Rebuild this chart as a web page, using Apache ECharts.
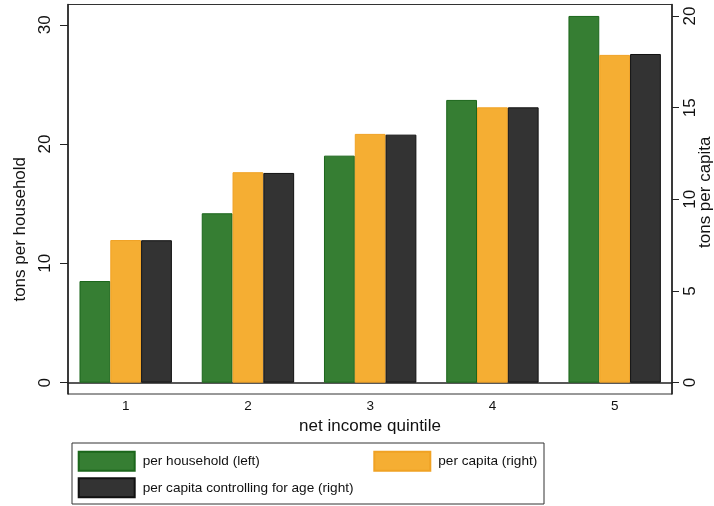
<!DOCTYPE html>
<html>
<head>
<meta charset="utf-8">
<script src="https://cdn.jsdelivr.net/npm/echarts@6/dist/echarts.min.js"></script>
<style>html,body{margin:0;padding:0;background:#fff}#c{width:714px;height:506px}</style>
</head>
<body>
<div id="c"></div>
<script>
// ---- data ----
const quintiles = [1, 2, 3, 4, 5];
const perHousehold = [8.52, 14.2, 19.03, 23.7, 30.74];          // left axis
const perCapita = [7.78, 11.48, 13.57, 15.02, 17.88];           // right axis
const perCapitaAge = [7.77, 11.44, 13.53, 15.02, 17.93];        // right axis
const leftTicks = [0, 10, 20, 30];
const rightTicks = [0, 5, 10, 15, 20];
const seriesNames = ['per household (left)', 'per capita (right)', 'per capita controlling for age (right)'];

const FONT = 'Liberation Sans, Arial, Helvetica, sans-serif';
const pairs = arr => arr.map((v, i) => [quintiles[i], v]);

const chart = echarts.init(document.getElementById('c'), null, {renderer: 'canvas'});
const legendText = {fontFamily: FONT, fontSize: 13.6, color: '#111', padding: [0, 0, 0, 3]};
const option = {
  backgroundColor: '#fff',
  animation: false,
  grid: {left: 68, right: 42, top: 4.5, bottom: 112, show: true, borderColor: '#333', borderWidth: 1,
         containLabel: false, outerBoundsMode: 'none'},
  xAxis: {
    type: 'value', min: 0.528, max: 5.469,
    name: 'net income quintile', nameLocation: 'middle', nameGap: 18,
    nameTextStyle: {fontFamily: FONT, fontSize: 17, color: '#111'},
    axisLine: {show: true, lineStyle: {color: '#222', width: 1.6}},
    axisTick: {show: false},
    splitLine: {show: false},
    axisLabel: {customValues: quintiles, fontFamily: FONT, fontSize: 13.5, color: '#111', margin: 5}
  },
  yAxis: [{
    type: 'value', position: 'left', min: -0.95, max: 31.7,
    name: 'tons per household', nameLocation: 'middle', nameGap: 38,
    nameTextStyle: {fontFamily: FONT, fontSize: 17, color: '#111', padding: [0, 60, 0, 0]},
    axisLine: {show: true, lineStyle: {color: '#222', width: 1.6}},
    axisTick: {show: true, customValues: leftTicks, length: 8, lineStyle: {color: '#222'}},
    splitLine: {show: false},
    axisLabel: {customValues: leftTicks, rotate: 90, fontFamily: FONT, fontSize: 17, color: '#111', margin: 14}
  }, {
    type: 'value', position: 'right', min: -0.62, max: 20.63,
    name: 'tons per capita', nameLocation: 'middle', nameGap: 25, nameRotate: 90, nameMoveOverlap: false,
    nameTextStyle: {fontFamily: FONT, fontSize: 17, color: '#111', padding: [0, 0, 0, 14]},
    axisLine: {show: true, lineStyle: {color: '#222', width: 1.6}},
    axisTick: {show: true, customValues: rightTicks, length: 7, lineStyle: {color: '#222'}},
    splitLine: {show: false},
    axisLabel: {customValues: rightTicks, rotate: 90, fontFamily: FONT, fontSize: 17, color: '#111', margin: 10}
  }],
  legend: [
    {data: [seriesNames[0]], left: 77.7, top: 450.7, padding: 0, itemWidth: 56, itemHeight: 19, textStyle: legendText, icon: 'rect'},
    {data: [seriesNames[1]], left: 373.3, top: 450.7, padding: 0, itemWidth: 56, itemHeight: 19, textStyle: legendText, icon: 'rect'},
    {data: [seriesNames[2]], left: 77.7, top: 477.3, padding: 0, itemWidth: 56, itemHeight: 19, textStyle: legendText, icon: 'rect'}
  ],
  graphic: [{
    type: 'rect', shape: {x: 72, y: 443, width: 472, height: 61},
    style: {fill: 'none', stroke: '#333', lineWidth: 1}, silent: true, z: -1
  }],
  series: [
    {name: seriesNames[0], type: 'bar', yAxisIndex: 0, data: pairs(perHousehold), barWidth: 30.8, barGap: '0%',
     itemStyle: {color: '#367E33', borderColor: '#1B661B', borderWidth: 1}},
    {name: seriesNames[1], type: 'bar', yAxisIndex: 1, data: pairs(perCapita), barWidth: 30.8, barGap: '0%',
     itemStyle: {color: '#F5AE33', borderColor: '#F0A224', borderWidth: 1}},
    {name: seriesNames[2], type: 'bar', yAxisIndex: 1, data: pairs(perCapitaAge), barWidth: 30.8, barGap: '0%',
     itemStyle: {color: '#333333', borderColor: '#111', borderWidth: 1}}
  ]
};
chart.setOption(option);
</script>
</body>
</html>
